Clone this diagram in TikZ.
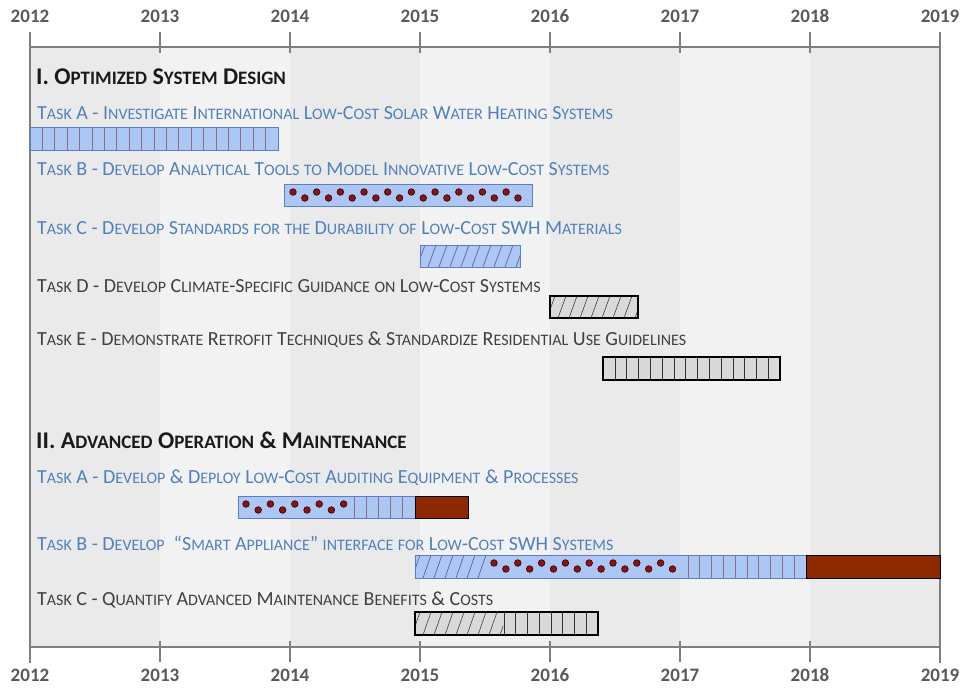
\documentclass[tikz,border=0pt]{standalone}
\usepackage{fontspec}
\setmainfont{Carlito}
\definecolor{taskblue}{HTML}{4F81BD}
\definecolor{taskgray}{HTML}{404040}
\definecolor{titlec}{HTML}{1A1A1A}
\definecolor{axisc}{HTML}{7F7F7F}
\definecolor{yearc}{HTML}{595959}
\definecolor{stripedark}{HTML}{EAEAEA}
\definecolor{stripelight}{HTML}{F2F2F2}
\definecolor{barblue}{HTML}{ADC7F4}
\definecolor{barblueedge}{HTML}{5B7FC4}
\definecolor{bargray}{HTML}{D9D9D9}
\definecolor{vlc}{HTML}{8E6E80}
\definecolor{hatchblue}{HTML}{62609A}
\definecolor{dotc}{HTML}{861616}
\definecolor{dotedge}{HTML}{4A0000}
\definecolor{brownc}{HTML}{8E2800}
\newcommand\scfont{\fontsize{16}{17}\selectfont}
\def\Wa#1#2\relax{#1{\scfont\MakeUppercase{#2}}}
\newcommand\W[1]{\Wa#1\relax}
\newcommand\Lw[1]{{\scfont\MakeUppercase{#1}}}
\newcommand\vlines[6]{\foreach \i in {0,...,#3} \draw[#6] ({#1+\i*#2},#4) -- ({#1+\i*#2},#5);}
\newcommand\hatchrow[6]{\begin{scope}\clip (#1,#4) rectangle (#2,#5);
  \foreach \i in {0,...,#3} \draw[#6] ({#1+\i*11-3},#5) -- ++(8,{#4-#5});\end{scope}}
\newcommand\dotrow[4]{\foreach \i in {0,...,#3} {\pgfmathsetmacro\dy{isodd(\i)?14:8}
  \filldraw[fill=dotc, draw=dotedge, line width=0.7pt] ({#1+\i*#2},{#4+\dy}) circle (3.3);}}
\tikzset{
  axisline/.style={draw=axisc, line width=2.4pt},
  yearlbl/.style={font=\fontsize{19}{19}\selectfont\bfseries, text=yearc, inner sep=0pt},
  tasklbl/.style={font=\fontsize{20}{21}\selectfont, inner sep=0pt, anchor=west},
  titlelbl/.style={font=\fontsize{24}{25}\selectfont\bfseries, text=titlec, inner sep=0pt, anchor=west},
  blueedge/.style={draw=barblueedge, line width=1pt},
  grayedge/.style={draw=black, line width=1.2pt},
  vlblue/.style={draw=vlc, line width=0.7pt},
  vlgray/.style={draw=black!80, line width=0.6pt},
  hblue/.style={draw=hatchblue, line width=0.7pt},
  hgray/.style={draw=black!75, line width=0.6pt},
}
\begin{document}
\begin{tikzpicture}[x=1pt,y=-1pt]
\useasboundingbox (0,0) rectangle (961,691);
\fill[white] (0,0) rectangle (961,691);
% stripes
\foreach \x/\c in {30/stripedark,160/stripelight,290/stripedark,420/stripelight,550/stripedark,680/stripelight,810/stripedark}
  \fill[\c] (\x,47) rectangle ({\x+130},647);
% axes
\draw[axisline] (30,47) -- (940,47);
\draw[axisline] (30,647) -- (940,647);
\draw[axisline] (30,32) -- (30,663);
\draw[axisline] (940,32) -- (940,663);
\foreach \x in {160,290,420,550,680,810} {
  \draw[axisline] (\x,32) -- (\x,53);
  \draw[axisline] (\x,641) -- (\x,662);
}
\foreach \yr [count=\k from 0] in {2012,...,2019} {
  \node[yearlbl] (top\yr) at ({30+130*\k},16) {\yr};
  \node[yearlbl] (bot\yr) at ({30+130*\k},675) {\yr};
}
% titles
\node[titlelbl] (s1) at (36,77) {\def\scfont{\fontsize{19}{20}\selectfont}I. \W{Optimized} \W{System} \W{Design}};
\node[titlelbl] (s2) at (36,440) {\def\scfont{\fontsize{19}{20}\selectfont}II. \W{Advanced} \W{Operation} \& \W{Maintenance}};
% task labels
\node[tasklbl, text=taskblue] (t1a) at (37,113) {\W{Task} A - \W{Investigate} \W{International} \W{Low}-\W{Cost} \W{Solar} \W{Water} \W{Heating} \W{Systems}};
\node[tasklbl, text=taskblue] (t1b) at (37,169) {\W{Task} B - \W{Develop} \W{Analytical} \W{Tools} \Lw{to} \W{Model} \W{Innovative} \W{Low}-\W{Cost} \W{Systems}};
\node[tasklbl, text=taskblue] (t1c) at (37,228) {\W{Task} C - \W{Develop} \W{Standards} \Lw{for} \Lw{the} \W{Durability} \Lw{of} \W{Low}-\W{Cost} SWH \W{Materials}};
\node[tasklbl, text=taskgray] (t1d) at (37,286) {\W{Task} D - \W{Develop} \W{Climate}-\W{Specific} \W{Guidance} \Lw{on} \W{Low}-\W{Cost} \W{Systems}};
\node[tasklbl, text=taskgray] (t1e) at (37,340) {\W{Task} E - \W{Demonstrate} \W{Retrofit} \W{Techniques} \& \W{Standardize} \W{Residential} \W{Use} \W{Guidelines}};
\node[tasklbl, text=taskblue] (t2a) at (37,478) {\W{Task} A - \W{Develop} \& \W{Deploy} \W{Low}-\W{Cost} \W{Auditing} \W{Equipment} \& \W{Processes}};
\node[tasklbl, text=taskblue] (t2b) at (37,543) {\W{Task} B - \W{Develop} \ “\W{Smart} \W{Appliance}” \Lw{interface} \Lw{for} \W{Low}-\W{Cost} SWH \W{Systems}};
\node[tasklbl, text=taskgray] (t2c) at (37,600) {\W{Task} C - \W{Quantify} \W{Advanced} \W{Maintenance} \W{Benefits} \& \W{Costs}};
% I.A
\fill[barblue] (30,127) rectangle (278,150);
\vlines{42.4}{12.4}{18}{127}{150}{vlblue}
\draw[blueedge] (30,127) rectangle (278,150);
% I.B
\fill[barblue] (284,184) rectangle (532,206);
\dotrow{293}{11.84}{19}{184}
\draw[blueedge] (284,184) rectangle (532,206);
% I.C
\fill[barblue] (420,245) rectangle (520,267);
\hatchrow{420}{520}{9}{245}{267}{hblue}
\draw[blueedge] (420,245) rectangle (520,267);
% I.D
\fill[bargray] (550,296) rectangle (638,318);
\hatchrow{550}{638}{8}{296}{318}{hgray}
\draw[grayedge] (550,296) rectangle (638,318);
% I.E
\fill[bargray] (603,357) rectangle (780,380);
\vlines{614.8}{11.8}{13}{357}{380}{vlgray}
\draw[grayedge] (603,357) rectangle (780,380);
% II.A
\fill[barblue] (238,496) rectangle (415,518);
\dotrow{246}{12.2}{8}{496}
\vlines{354}{12}{4}{496}{518}{vlblue}
\draw[blueedge] (238,496) rectangle (415,518);
\fill[brownc] (415,496) rectangle (468,518);
\draw[black, line width=1pt] (415,496) rectangle (468,518);
% II.B
\fill[barblue] (415,555) rectangle (806,578);
\hatchrow{415}{486}{6}{555}{578}{hblue}
\dotrow{494}{11.9}{15}{555}
\vlines{688}{11.8}{9}{555}{578}{vlblue}
\draw[blueedge] (415,555) rectangle (806,578);
\fill[brownc] (806,555) rectangle (940,578);
\draw[black, line width=1pt] (806,555) rectangle (940,578);
% II.C
\fill[bargray] (415,612) rectangle (598,635);
\hatchrow{415}{503}{8}{612}{635}{hgray}
\vlines{504}{11.7}{7}{612}{635}{vlgray}
\draw[grayedge] (415,612) rectangle (598,635);
\end{tikzpicture}
\end{document}
